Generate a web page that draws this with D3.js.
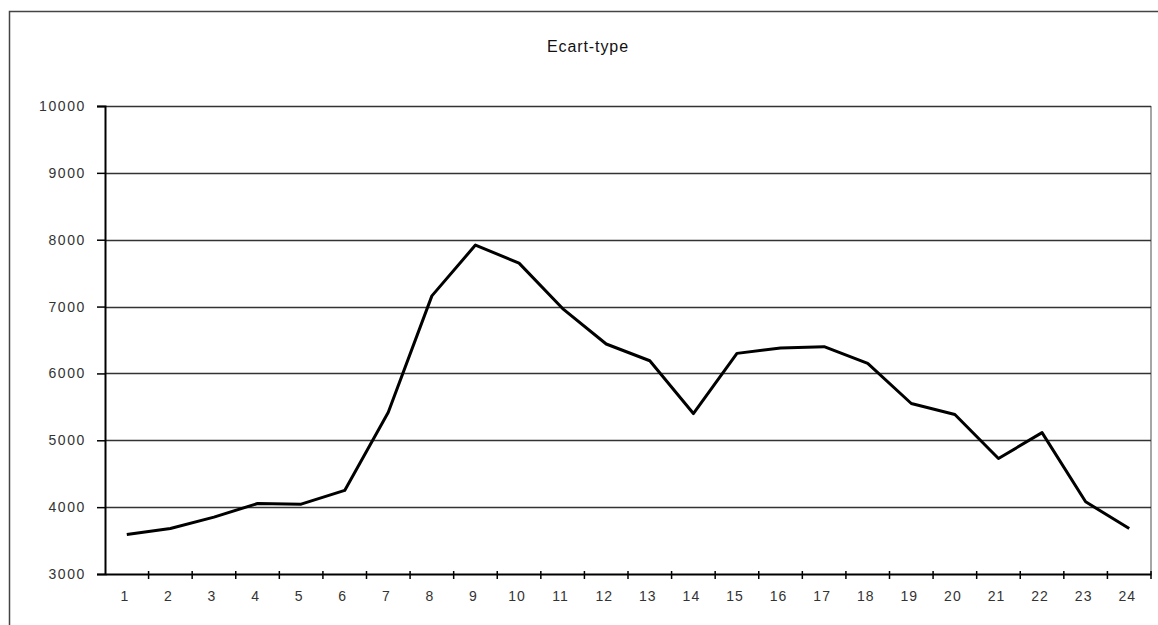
<!DOCTYPE html>
<html><head><meta charset="utf-8">
<script src="https://cdn.jsdelivr.net/npm/d3@7"></script>
<style>body{margin:0;background:#fff;}svg{display:block;}</style>
</head><body>
<svg id="chart" width="1158" height="625"></svg>
<script>
const title = "Ecart-type";
const categories = ["1","2","3","4","5","6","7","8","9","10","11","12","13","14","15","16","17","18","19","20","21","22","23","24"];
const values = [3590,3680,3850,4055,4045,4250,5420,7160,7920,7650,6970,6440,6190,5400,6300,6380,6400,6150,5550,5385,4727,5115,4080,3680];
const yTicks = [3000,4000,5000,6000,7000,8000,9000,10000];

const svg = d3.select("#chart");
const m = {left:105, right:1151, top:106, bottom:574};
const font = "Liberation Sans, Arial, sans-serif";

// outer border
svg.append("rect").attr("x",9.5).attr("y",11.5).attr("width",1200).attr("height",700)
  .attr("fill","none").attr("stroke","#444").attr("stroke-width",1.5);

svg.append("text").attr("x",588).attr("y",52).attr("text-anchor","middle")
  .attr("font-family",font).attr("font-size",16).attr("letter-spacing","0.9px").attr("fill","#111").text(title);

const x = d3.scaleBand().domain(categories).range([m.left,m.right]).padding(0);
const y = d3.scaleLinear().domain([3000,10000]).range([m.bottom,m.top]);

// plot right border
svg.append("line").attr("x1",m.right).attr("x2",m.right).attr("y1",m.top).attr("y2",m.bottom)
  .attr("stroke","#888").attr("stroke-width",1.5);

// gridlines
svg.append("g").selectAll("line").data(yTicks.filter(d=>d>3000)).join("line")
  .attr("x1",m.left).attr("x2",m.right).attr("y1",d=>Math.round(y(d))+0.5).attr("y2",d=>Math.round(y(d))+0.5)
  .attr("stroke","#333").attr("stroke-width",1.5);

// y axis
const yAxis = d3.axisLeft(y).tickValues(yTicks).tickSize(8).tickPadding(11).tickFormat(d=>d);
const gy = svg.append("g").attr("transform",`translate(${m.left},0)`).call(yAxis);
gy.select(".domain").attr("stroke","#000").attr("stroke-width",2);
gy.selectAll(".tick line").attr("stroke","#000").attr("stroke-width",1.5);
gy.selectAll("text").attr("font-family",font).attr("font-size",14).attr("letter-spacing","1.6px").attr("fill","#333");

// x axis
const gx = svg.append("g").attr("transform",`translate(0,${m.bottom})`)
  .call(d3.axisBottom(x).tickSize(0).tickPadding(17));
gx.select(".domain").attr("stroke","#000").attr("stroke-width",2);
gx.selectAll("text").attr("font-family",font).attr("font-size",14).attr("letter-spacing","1px").attr("fill","#333")
  .attr("dx","-2");
// category boundary ticks
const bounds = categories.map(c=>x(c)).concat([m.right]).slice(1);
svg.append("g").selectAll("line").data(bounds).join("line")
  .attr("x1",d=>d).attr("x2",d=>d).attr("y1",m.bottom-3).attr("y2",m.bottom+5)
  .attr("stroke","#000").attr("stroke-width",1.5);

// line
const line = d3.line().x((d,i)=>x(categories[i])+x.bandwidth()/2).y(d=>y(d));
svg.append("path").datum(values).attr("d",line).attr("fill","none")
  .attr("stroke","#000").attr("stroke-width",3).attr("stroke-linejoin","round");
</script>
</body></html>
